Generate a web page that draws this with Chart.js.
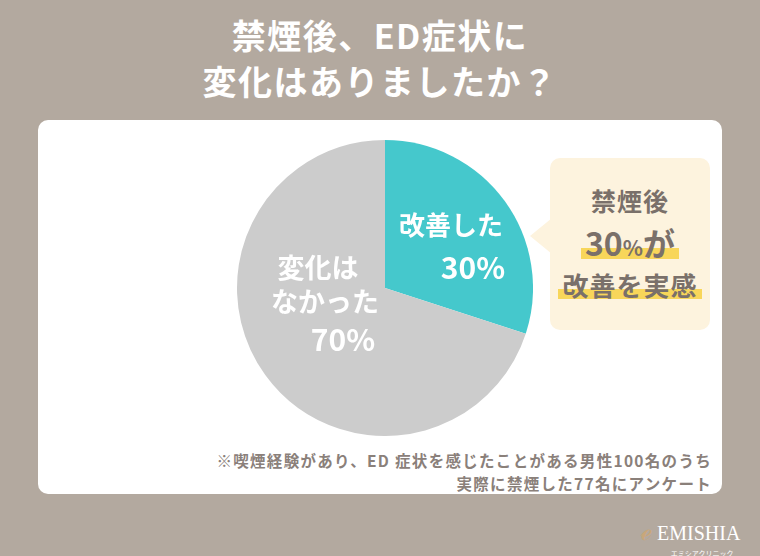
<!DOCTYPE html>
<html><head><meta charset="utf-8">
<script src="https://cdn.jsdelivr.net/npm/chart.js@4"></script>
<style>
body{margin:0;width:760px;height:556px;background:#b3a99f;font-family:"Noto Sans CJK JP",sans-serif;position:relative;overflow:hidden}
#title{position:absolute;top:12px;left:0;width:760px;text-align:center;color:#fff;font-weight:bold;font-size:34px;line-height:46px;letter-spacing:1.5px}
#panel{position:absolute;left:38px;top:120px;width:684px;height:374px;background:#fff;border-radius:10px}
#wrap{position:absolute;left:237px;top:140px;width:296px;height:296px}
#call{position:absolute;left:550px;top:158px;width:160px;height:172px;background:#fdf3de;border-radius:10px;text-align:center;color:#7a706a;font-weight:bold}
#tri{position:absolute;left:530px;top:218px;width:0;height:0;border-top:18px solid transparent;border-bottom:18px solid transparent;border-right:22px solid #fdf3de}
.hl{background:linear-gradient(transparent 62%,#f8d65a 62%,#f8d65a 88%,transparent 88%);padding:0 4px}
#note{position:absolute;right:48px;top:449px;text-align:right;color:#8a807a;font-size:15.5px;font-weight:bold;line-height:23px;letter-spacing:1.3px}
#logo{position:absolute;left:640px;top:512px;color:#fff;font-family:"Liberation Serif",serif;font-size:20px}
#logo small{display:block;font-size:7px;text-align:center;margin-left:24px;font-family:"Noto Sans CJK JP"}
</style></head><body>
<div id="title">禁煙後、ED症状に<br>変化はありましたか？</div>
<div id="panel"></div>
<div id="wrap"><canvas id="c" width="296" height="296"></canvas></div>
<div id="tri"></div>
<div id="call"><div style="font-size:25px;margin-top:24px;letter-spacing:1px">禁煙後</div>
<div style="font-size:32px;line-height:40px;margin-top:4px"><span class="hl">30<span style="font-size:21px">%</span>が</span></div>
<div style="font-size:26px;line-height:36px;letter-spacing:1px"><span class="hl">改善を実感</span></div></div>
<div id="note">※喫煙経験があり、ED 症状を感じたことがある男性100名のうち<br>実際に禁煙した77名にアンケート</div>
<div id="logo"><span style="color:#c9a77a;font-size:26px">ℯ</span> EMISHIA<small>エミシアクリニック</small></div>
<script>
const categories=["改善した","変化はなかった"];
const values=[30,70];
const labelLines=[["改善した","30%"],["変化は","なかった","70%"]];
const colors=["#45c8cc","#cccccc"];
const lbl={id:"lbl",afterDatasetsDraw(ch){const ctx=ch.ctx;const m=ch.getDatasetMeta(0);
ctx.fillStyle="#fff";ctx.textBaseline="middle";ctx.textAlign="center";
const pos=[[{x:214,y:85,f:26},{x:236,y:128,f:30}],[{x:81,y:128,f:27},{x:88,y:162,f:27},{x:106,y:200,f:30}]];
m.data.forEach((arc,i)=>{labelLines[i].forEach((t,j)=>{ctx.font="bold "+pos[i][j].f+"px 'Noto Sans CJK JP'";ctx.fillText(t,pos[i][j].x,pos[i][j].y);});});}};
new Chart(document.getElementById("c"),{type:"pie",data:{labels:categories,datasets:[{data:values,backgroundColor:colors,borderWidth:0}]},
options:{responsive:false,animation:false,layout:{padding:0},plugins:{legend:{display:false},tooltip:{enabled:false}}},plugins:[lbl]});
</script></body></html>
